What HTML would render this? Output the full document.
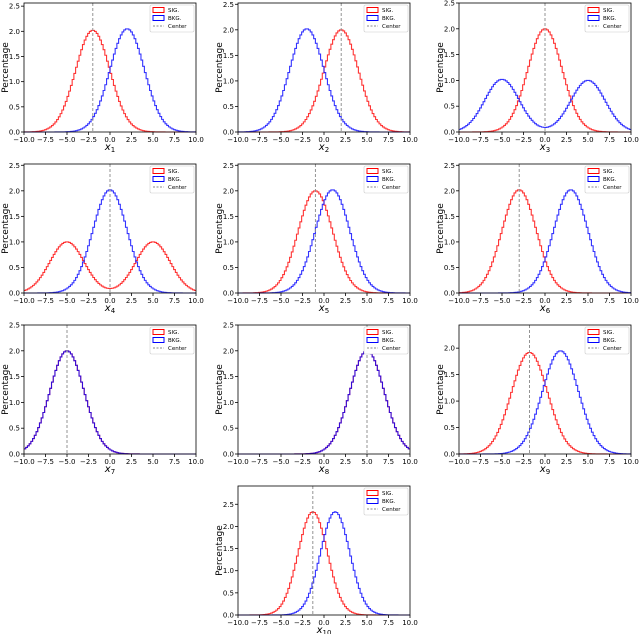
<!DOCTYPE html>
<html><head><meta charset="utf-8"><style>
html,body{margin:0;padding:0;background:#fff;}
svg{display:block;font-family:"DejaVu Sans","Liberation Sans",sans-serif;}
</style></head><body>
<svg id="fig" width="640" height="634" viewBox="0 0 640 634"></svg>
<script>
// Data: one entry per subplot (x1..x10)
const labels = ["1","2","3","4","5","6","7","8","9","10"];
const centers = [-2, 2, 0, 0, -1, -3, -5, 5, -1.8, -1.3];
// signal components: [[mean, sd, peak], ...]
const sigComps = [
 [[-2,2,2.02]], [[2,2,2.0]], [[0,2,2.0]], [[-5,2,1.0],[5,2,1.0]], [[-1,2,2.0]],
 [[-3,2,2.02]], [[-5,2,2.0]], [[5,2,2.0]], [[-1.8,2.1,1.92]], [[-1.3,1.7,2.33]]
];
const bkgComps = [
 [[2,2,2.05]], [[-2,2,2.02]], [[-5,2,1.02],[5,2,1.0]], [[0,2,2.02]], [[1,2,2.02]],
 [[3,2,2.02]], [[-5,2,2.0]], [[5,2,2.0]], [[1.8,2.1,1.95]], [[1.3,1.7,2.33]]
];
const yTicks = [0, 0.5, 1.0, 1.5, 2.0, 2.5];
const xTicks = [-10, -7.5, -5, -2.5, 0, 2.5, 5, 7.5, 10];

const NS = "http://www.w3.org/2000/svg";
const svg = document.getElementById("fig");
const colLeft = [24, 238, 459];
const rowTop = [3, 164, 325, 486];
const W = 172, H = 129;
const positions = [[0,0],[0,1],[0,2],[1,0],[1,1],[1,2],[2,0],[2,1],[2,2],[3,1]];

function mk(tag, attrs, parent){
  const e = document.createElementNS(NS, tag);
  for (const k in attrs) e.setAttribute(k, attrs[k]);
  parent.appendChild(e); return e;
}
function dens(comps, x){
  let v = 0;
  for (const c of comps) v += c[2]*Math.exp(-0.5*((x-c[0])/c[1])**2);
  return v;
}
function fmt(v){ return (v<0?"\u2212":"") + Math.abs(v).toFixed(1); }

for (let i=0;i<10;i++){
  const [r,c] = positions[i];
  const L = colLeft[c], T = rowTop[r];
  const g = mk("g", {}, svg);
  
  
  let maxv = 0;
  for (const comps of [sigComps[i], bkgComps[i]])
    for (let x=-10; x<=10; x+=0.05) maxv = Math.max(maxv, dens(comps, x));
  const ymax = maxv*1.25;
  const sx = v => L + (v+10)/20*W;
  const sy = v => T + H - v/ymax*H;
  const series = [[sigComps[i], "#ff0000", "sig"], [bkgComps[i], "#0000ff", "bkg"]];
  for (const [comps, col, nm] of series){
    const bw = 0.2; let d = "";
    for (let b=0;b<100;b++){
      const x0 = -10 + b*bw, x1 = x0 + bw;
      const v = dens(comps, x0 + bw/2);
      d += (b===0 ? "M"+sx(x0)+","+sy(v) : "L"+sx(x0)+","+sy(v)) + "L"+sx(x1)+","+sy(v);
    }
    const p = mk("path", {d:d, fill:"none", stroke:col, "stroke-width":1.1, opacity:0.8}, g);
    
    
  }
  const cl = mk("line", {x1:sx(centers[i]), x2:sx(centers[i]), y1:T, y2:T+H, stroke:"#888", "stroke-width":0.9, "stroke-dasharray":"3,2"}, g);
  
  
  const fr = mk("rect", {x:L, y:T, width:W, height:H, fill:"none", stroke:"#000", "stroke-width":0.8}, g);
  
  
  for (const t of yTicks){
    if (t > ymax) continue;
    const y = sy(t);
    mk("line", {x1:L-3, x2:L, y1:y, y2:y, stroke:"#000", "stroke-width":0.8}, g);
    const tx = mk("text", {x:L-4, y:y+2.5, "font-size":7, "text-anchor":"end"}, g);
    tx.textContent = t.toFixed(1);
    
    
  }
  for (const t of xTicks){
    const x = sx(t);
    mk("line", {x1:x, x2:x, y1:T+H, y2:T+H+3, stroke:"#000", "stroke-width":0.8}, g);
    const tx = mk("text", {x:x, y:T+H+10, "font-size":7, "text-anchor":"middle"}, g);
    tx.textContent = fmt(t);
    
    
  }
  const yl = mk("text", {x:L-16, y:T+H/2, "font-size":9, "text-anchor":"middle", transform:"rotate(-90 "+(L-16)+" "+(T+H/2)+")"}, g);
  yl.textContent = "Percentage";
  
  
  const xl = mk("text", {x:L+W/2, y:T+H+18, "font-size":10, "text-anchor":"middle", "font-style":"italic"}, g);
  xl.textContent = "x";
  const sub = mk("tspan", {"font-size":7, "font-style":"normal", dy:2}, xl);
  sub.textContent = labels[i];
  
  
  const lg = mk("g", {}, g);
  
  
  const lx = L+W-46, ly = T+2;
  mk("rect", {x:lx, y:ly, width:44, height:27, fill:"#fff", stroke:"#ccc", "stroke-width":0.6, rx:1.5}, lg);
  const ents = [["SIG.","#ff0000","rect"],["BKG.","#0000ff","rect"],["Center","#888","line"]];
  ents.forEach((e,k)=>{
    const yy = ly + 5 + k*8;
    if (e[2]==="rect") mk("rect", {x:lx+3, y:yy-2.5, width:11, height:5, fill:"none", stroke:e[1], "stroke-width":1}, lg);
    else mk("line", {x1:lx+3, x2:lx+14, y1:yy, y2:yy, stroke:e[1], "stroke-width":0.9, "stroke-dasharray":"2,1.5"}, lg);
    const t = mk("text", {x:lx+18, y:yy+2, "font-size":5.5}, lg);
    t.textContent = e[0];
    
    
  });
}
</script>
</body></html>
